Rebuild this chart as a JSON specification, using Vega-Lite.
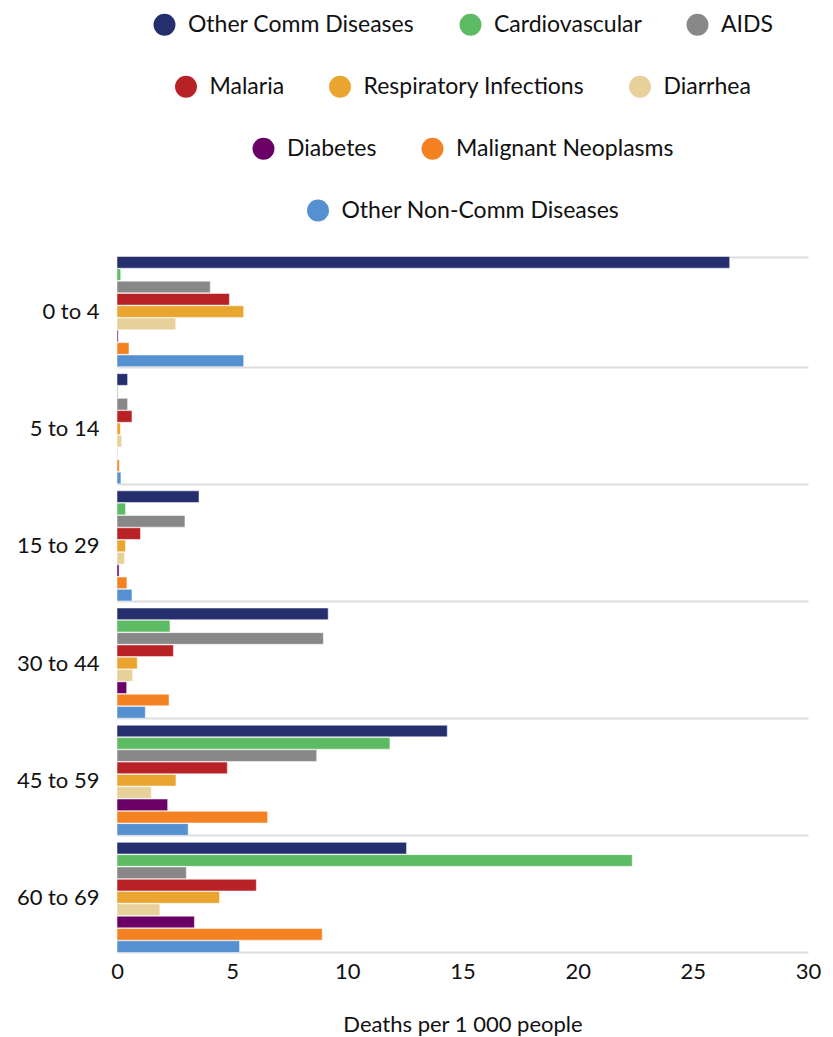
{
  "$schema": "https://vega.github.io/schema/vega-lite/v6.json",
  "autosize": "none",
  "width": 691,
  "height": 703,
  "padding": {"left": 117, "top": 253, "right": 25, "bottom": 81},
  "background": "white",
  "data": {"values": [
    {"age": "0 to 4", "cause": "Other Comm Diseases", "deaths": 26.6},
    {"age": "0 to 4", "cause": "Cardiovascular", "deaths": 0.16},
    {"age": "0 to 4", "cause": "AIDS", "deaths": 4.05},
    {"age": "0 to 4", "cause": "Malaria", "deaths": 4.88},
    {"age": "0 to 4", "cause": "Respiratory Infections", "deaths": 5.5},
    {"age": "0 to 4", "cause": "Diarrhea", "deaths": 2.55},
    {"age": "0 to 4", "cause": "Diabetes", "deaths": 0.05},
    {"age": "0 to 4", "cause": "Malignant Neoplasms", "deaths": 0.52},
    {"age": "0 to 4", "cause": "Other Non-Comm Diseases", "deaths": 5.5},
    {"age": "5 to 14", "cause": "Other Comm Diseases", "deaths": 0.46},
    {"age": "5 to 14", "cause": "Cardiovascular", "deaths": 0.04},
    {"age": "5 to 14", "cause": "AIDS", "deaths": 0.46},
    {"age": "5 to 14", "cause": "Malaria", "deaths": 0.65},
    {"age": "5 to 14", "cause": "Respiratory Infections", "deaths": 0.15},
    {"age": "5 to 14", "cause": "Diarrhea", "deaths": 0.2},
    {"age": "5 to 14", "cause": "Diabetes", "deaths": 0.01},
    {"age": "5 to 14", "cause": "Malignant Neoplasms", "deaths": 0.1},
    {"age": "5 to 14", "cause": "Other Non-Comm Diseases", "deaths": 0.17},
    {"age": "15 to 29", "cause": "Other Comm Diseases", "deaths": 3.56},
    {"age": "15 to 29", "cause": "Cardiovascular", "deaths": 0.37},
    {"age": "15 to 29", "cause": "AIDS", "deaths": 2.95},
    {"age": "15 to 29", "cause": "Malaria", "deaths": 1.02},
    {"age": "15 to 29", "cause": "Respiratory Infections", "deaths": 0.37},
    {"age": "15 to 29", "cause": "Diarrhea", "deaths": 0.33},
    {"age": "15 to 29", "cause": "Diabetes", "deaths": 0.09},
    {"age": "15 to 29", "cause": "Malignant Neoplasms", "deaths": 0.43},
    {"age": "15 to 29", "cause": "Other Non-Comm Diseases", "deaths": 0.65},
    {"age": "30 to 44", "cause": "Other Comm Diseases", "deaths": 9.17},
    {"age": "30 to 44", "cause": "Cardiovascular", "deaths": 2.3},
    {"age": "30 to 44", "cause": "AIDS", "deaths": 8.96},
    {"age": "30 to 44", "cause": "Malaria", "deaths": 2.45},
    {"age": "30 to 44", "cause": "Respiratory Infections", "deaths": 0.88},
    {"age": "30 to 44", "cause": "Diarrhea", "deaths": 0.68},
    {"age": "30 to 44", "cause": "Diabetes", "deaths": 0.42},
    {"age": "30 to 44", "cause": "Malignant Neoplasms", "deaths": 2.26},
    {"age": "30 to 44", "cause": "Other Non-Comm Diseases", "deaths": 1.23},
    {"age": "45 to 59", "cause": "Other Comm Diseases", "deaths": 14.34},
    {"age": "45 to 59", "cause": "Cardiovascular", "deaths": 11.85},
    {"age": "45 to 59", "cause": "AIDS", "deaths": 8.67},
    {"age": "45 to 59", "cause": "Malaria", "deaths": 4.79},
    {"age": "45 to 59", "cause": "Respiratory Infections", "deaths": 2.56},
    {"age": "45 to 59", "cause": "Diarrhea", "deaths": 1.49},
    {"age": "45 to 59", "cause": "Diabetes", "deaths": 2.2},
    {"age": "45 to 59", "cause": "Malignant Neoplasms", "deaths": 6.54},
    {"age": "45 to 59", "cause": "Other Non-Comm Diseases", "deaths": 3.09},
    {"age": "60 to 69", "cause": "Other Comm Diseases", "deaths": 12.57},
    {"age": "60 to 69", "cause": "Cardiovascular", "deaths": 22.37},
    {"age": "60 to 69", "cause": "AIDS", "deaths": 3.01},
    {"age": "60 to 69", "cause": "Malaria", "deaths": 6.05},
    {"age": "60 to 69", "cause": "Respiratory Infections", "deaths": 4.45},
    {"age": "60 to 69", "cause": "Diarrhea", "deaths": 1.86},
    {"age": "60 to 69", "cause": "Diabetes", "deaths": 3.36},
    {"age": "60 to 69", "cause": "Malignant Neoplasms", "deaths": 8.91},
    {"age": "60 to 69", "cause": "Other Non-Comm Diseases", "deaths": 5.32}
  ]},
  "encoding": {
    "x": {
      "field": "deaths", "type": "quantitative",
      "scale": {"domain": [0, 30], "nice": false},
      "axis": {"values": [0, 5, 10, 15, 20, 25, 30], "grid": false, "ticks": false, "domain": false,
               "labelFlush": false, "labelOverlap": false,
               "labelFontSize": 22, "labelPadding": 5, "title": "Deaths per 1 000 people",
               "titleFontSize": 22, "titleFontWeight": "normal", "titlePadding": 32}
    },
    "y": {
      "field": "age", "type": "nominal",
      "sort": ["0 to 4", "5 to 14", "15 to 29", "30 to 44", "45 to 59", "60 to 69"],
      "scale": {"paddingInner": 0.06, "paddingOuter": 0.03},
      "axis": {"title": null, "ticks": false, "domain": false, "grid": true, "tickBand": "extent",
               "gridColor": "#dddddd", "gridWidth": 2, "labelFontSize": 22, "labelPadding": 18}
    },
    "yOffset": {
      "field": "cause", "type": "nominal",
      "scale": {"domain": ["Other Comm Diseases", "Cardiovascular", "AIDS", "Malaria", "Respiratory Infections", "Diarrhea", "Diabetes", "Malignant Neoplasms", "Other Non-Comm Diseases"], "paddingInner": 0.05}
    }
  },
  "layer": [
    {
      "transform": [{"filter": {"field": "cause", "oneOf": ["Other Comm Diseases", "Cardiovascular", "AIDS"]}}],
      "mark": {"type": "bar", "stroke": "white", "strokeOpacity": 0.5, "strokeWidth": 1},
      "encoding": {"color": {"field": "cause", "type": "nominal",
        "scale": {"domain": ["Other Comm Diseases", "Cardiovascular", "AIDS"], "range": ["#262f6e", "#5dbb63", "#888888"]},
        "legend": {"title": null}}}
    },
    {
      "transform": [{"filter": {"field": "cause", "oneOf": ["Malaria", "Respiratory Infections", "Diarrhea"]}}],
      "mark": {"type": "bar", "stroke": "white", "strokeOpacity": 0.5, "strokeWidth": 1},
      "encoding": {"color": {"field": "cause", "type": "nominal",
        "scale": {"domain": ["Malaria", "Respiratory Infections", "Diarrhea"], "range": ["#b82227", "#e9a530", "#e8d09a"]},
        "legend": {"title": null}}}
    },
    {
      "transform": [{"filter": {"field": "cause", "oneOf": ["Diabetes", "Malignant Neoplasms"]}}],
      "mark": {"type": "bar", "stroke": "white", "strokeOpacity": 0.5, "strokeWidth": 1},
      "encoding": {"color": {"field": "cause", "type": "nominal",
        "scale": {"domain": ["Diabetes", "Malignant Neoplasms"], "range": ["#6a0066", "#f48222"]},
        "legend": {"title": null}}}
    },
    {
      "transform": [{"filter": {"field": "cause", "oneOf": ["Other Non-Comm Diseases"]}}],
      "mark": {"type": "bar", "stroke": "white", "strokeOpacity": 0.5, "strokeWidth": 1},
      "encoding": {"color": {"field": "cause", "type": "nominal",
        "scale": {"domain": ["Other Non-Comm Diseases"], "range": ["#5591d0"]},
        "legend": {"title": null}}}
    }
  ],
  "resolve": {"scale": {"color": "independent"}},
  "config": {
    "font": "Lato",
    "view": {"stroke": null},
    "axis": {"labelColor": "#111111", "titleColor": "#111111", "labelFont": "Lato", "titleFont": "Lato"},
    "legend": {
      "orient": "top",
      "direction": "horizontal",
      "symbolType": "circle",
      "symbolSize": 480,
      "symbolStrokeWidth": 0,
      "symbolOpacity": 1,
      "labelFontSize": 23,
      "labelColor": "#111111",
      "labelFont": "Lato",
      "labelLimit": 400,
      "labelOffset": 12,
      "columnPadding": 44,
      "offset": 30,
      "layout": {"top": {"anchor": "middle", "direction": "vertical", "center": true, "margin": 38}}
    }
  }
}
